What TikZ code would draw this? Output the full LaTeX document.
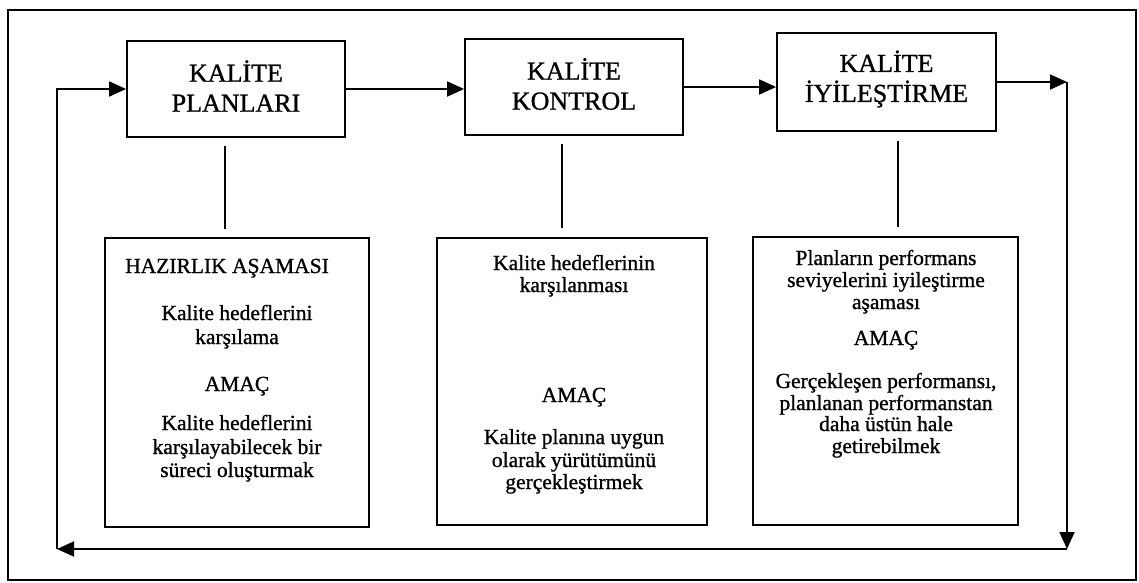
\documentclass[tikz,border=0pt]{standalone}
\usepackage{fontspec}
\setmainfont{Liberation Serif}[FakeBold=1.0]
\usetikzlibrary{arrows.meta}
\begin{document}
\begin{tikzpicture}[x=1pt,y=-1pt,
  stage/.style={draw, line width=1.8pt, minimum width=218pt, minimum height=96pt, inner sep=0pt},
  stagetxt/.style={align=center, inner sep=0pt, yshift=3pt, font=\fontsize{26}{30}\selectfont},
  detail/.style={draw, line width=1.8pt, inner sep=0pt},
  txt/.style={anchor=base, inner sep=0pt, font=\fontsize{21.5}{23}\selectfont},
  flow/.style={line width=1.8pt, -{Triangle[length=17pt,width=15pt]}},
  link/.style={line width=2pt},
  frame/.style={line width=1.8pt}]
\useasboundingbox (0,0) rectangle (1139,582);
% outer frame
\draw[frame] (8,10) rectangle (1136,580);

% stage boxes
\node[stage, label={[stagetxt]center:KALİTE\\PLANLARI}] (t1) at (236,89) {};
\node[stage, label={[stagetxt]center:KALİTE\\KONTROL}] (t2) at (574,87) {};
\node[stage, minimum width=219pt, minimum height=98pt,
      label={[stagetxt]center:KALİTE\\İYİLEŞTİRME}] (t3) at (886.5,82) {};

% detail boxes
\node[detail, minimum width=264pt, minimum height=289pt] (d1) at (237,382.5) {};
\node[detail, minimum width=270pt, minimum height=287pt] (d2) at (572,381.5) {};
\node[detail, minimum width=265pt, minimum height=288pt] (d3) at (885.5,381) {};

% detail texts
\node[txt, anchor=base west] (d1a) at (125,273) {HAZIRLIK AŞAMASI};
\node[txt] (d1b) at (237,320) {Kalite hedeflerini};
\node[txt] (d1c) at (237,344) {karşılama};
\node[txt] (d1d) at (237,391) {AMAÇ};
\node[txt] (d1e) at (237,430) {Kalite hedeflerini};
\node[txt] (d1f) at (237,454) {karşılayabilecek bir};
\node[txt] (d1g) at (237,477) {süreci oluşturmak};

\node[txt] (d2a) at (574,270) {Kalite hedeflerinin};
\node[txt] (d2b) at (574,292) {karşılanması};
\node[txt] (d2c) at (574,402) {AMAÇ};
\node[txt] (d2d) at (574,444) {Kalite planına uygun};
\node[txt] (d2e) at (574,467) {olarak yürütümünü};
\node[txt] (d2f) at (574,489) {gerçekleştirmek};

\node[txt] (d3a) at (886,265) {Planların performans};
\node[txt] (d3b) at (886,287) {seviyelerini iyileştirme};
\node[txt] (d3c) at (886,309) {aşaması};
\node[txt] (d3d) at (886,345) {AMAÇ};
\node[txt] (d3e) at (886,388) {Gerçekleşen performansı,};
\node[txt] (d3f) at (886,410) {planlanan performanstan};
\node[txt] (d3g) at (886,431) {daha üstün hale};
\node[txt] (d3h) at (886,453) {getirebilmek};

% links between stage and detail boxes
\draw[link] ([xshift=-11pt,yshift=-8pt]t1.south) -- ([xshift=-12pt,yshift=8pt]d1.north);
\draw[link] ([xshift=-12pt,yshift=-8pt]t2.south) -- ([xshift=-10pt,yshift=9pt]d2.north);
\draw[link] ([xshift=11.5pt,yshift=-9pt]t3.south) -- ([xshift=12.5pt,yshift=9pt]d3.north);

% feedback loop corners
\coordinate (cTR) at (1067,82);
\coordinate (cBR) at (1067,549);
\coordinate (cBL) at (57,549);

% flow arrows
\draw[flow] (t1.east) -- (t1.east -| t2.west);
\draw[flow] (t2.east) -- (t2.east -| t3.west);
\draw[flow] (t3.east) -- (cTR);
\draw[flow] (cTR) -- (cBR);
\draw[flow] (cBR) -- (cBL);
\draw[flow] (cBL) |- (t1.west);
\end{tikzpicture}
\end{document}
